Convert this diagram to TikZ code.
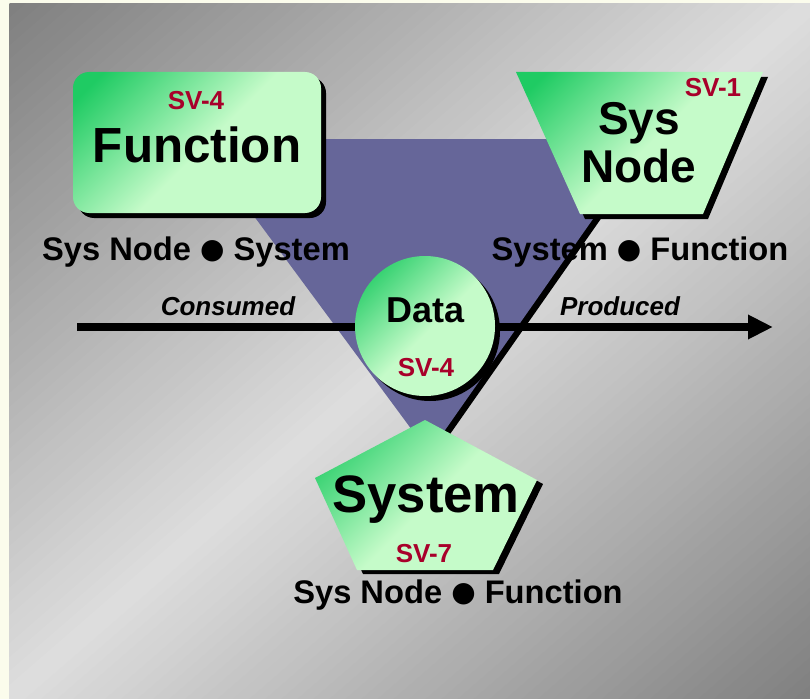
\documentclass[tikz,border=0pt]{standalone}
\usepackage{fontspec}
\setmainfont{Liberation Sans}
\newfontfamily\symfont{DejaVu Sans}
\usetikzlibrary{arrows.meta}
\definecolor{ivory}{HTML}{FBFCEC}
\definecolor{gdark}{HTML}{7F7F7F}
\definecolor{glight}{HTML}{DEDEDE}
\definecolor{gA}{HTML}{1FCB63}
\definecolor{gB}{HTML}{C5FBC9}
\definecolor{tri}{HTML}{666699}
\definecolor{svred}{HTML}{A8002A}
\pgfdeclarehorizontalshading{gfade}{100bp}{color(0bp)=(gA); color(20bp)=(gA); color(52bp)=(gB); color(100bp)=(gB)}
\newcommand{\bigdot}{\raisebox{1.2pt}{\symfont\fontsize{21}{21}\selectfont ●}}
\begin{document}
\begin{tikzpicture}[x=0.75pt,y=-0.75pt,
  shadowfill/.style={fill=black},
  greenshade/.style={shading=gfade, shading angle=-45},
  svlabel/.style={anchor=base, inner sep=0pt, text=svred, font=\fontsize{19.5}{20}\selectfont\bfseries},
  biglabel/.style={anchor=base, inner sep=0pt, font=\fontsize{37}{38}\selectfont\bfseries},
  relabel/.style={anchor=base, inner sep=0pt, font=\fontsize{24.5}{26}\selectfont\bfseries},
  flowlabel/.style={anchor=base, inner sep=0pt, font=\fontsize{19.5}{20}\selectfont\bfseries\itshape},
  flowline/.style={line width=6pt, -{Triangle[length=18.75pt,width=17.25pt]}}]
\useasboundingbox (0,0) rectangle (810,699);
% background
\fill[ivory] (0,0) rectangle (810,699);
\begin{scope}
  \clip (9,4) rectangle (810,699);
  \foreach \k in {0,...,99}{
    \pgfmathsetmacro{\ta}{\k*10.5}
    \pgfmathsetmacro{\tb}{\k*10.5+11.5}
    \pgfmathsetmacro{\lf}{100*(1-abs(\k*10.5+5.25-525)/525)}
    \fill[glight!\lf!gdark]
      ({9+\ta*0.6554+1100*0.7554},{4+\ta*0.7554-1100*0.6554}) --
      ({9+\ta*0.6554-1100*0.7554},{4+\ta*0.7554+1100*0.6554}) --
      ({9+\tb*0.6554-1100*0.7554},{4+\tb*0.7554+1100*0.6554}) --
      ({9+\tb*0.6554+1100*0.7554},{4+\tb*0.7554-1100*0.6554}) -- cycle;
  }
\end{scope}
% inverted triangle with shadow
\fill[shadowfill, shift={(5,4)}] (197,139) -- (649,139) -- (429,453) -- cycle;
\fill[tri] (197,139) -- (649,139) -- (429,453) -- cycle;
% flow arrow
\coordinate (cstart) at (77,327);
\coordinate (cend) at (773,327);
\draw[flowline] (cstart) -- (cend);
% Function box
\fill[shadowfill, rounded corners=12pt] (78,77) rectangle (326,218);
\shade[greenshade, rounded corners=12pt] (73,72) rectangle (321,213);
% Sys Node trapezoid
\fill[shadowfill, shift={(5,5)}] (516,72) -- (763,72) -- (703,214) -- (580,214) -- cycle;
\shade[greenshade] (516,72) -- (763,72) -- (703,214) -- (580,214) -- cycle;
% Data circle
\fill[shadowfill] (430,331) circle[radius=70];
\shade[greenshade] (425,326) circle[radius=70];
% System pentagon
\fill[shadowfill, shift={(6,4)}] (425,420) -- (537,480) -- (493,570) -- (357,570) -- (315,478) -- cycle;
\shade[greenshade] (425,420) -- (537,480) -- (493,570) -- (357,570) -- (315,478) -- cycle;
% texts
\node[svlabel] (fsv) at (196,109) {SV-4};
\node[biglabel] (fname) at (197,162) {Function};
\node[relabel] (frel) at (196,260) {Sys Node \bigdot{} System};
\node[svlabel] (nsv) at (713,96) {SV-1};
\node[biglabel, font=\fontsize{34.5}{36}\selectfont\bfseries] (nname1) at (639,134) {Sys};
\node[biglabel, font=\fontsize{34.5}{36}\selectfont\bfseries] (nname2) at (639,182) {Node};
\node[relabel] (nrel) at (640,260) {System \bigdot{} Function};
\node[flowlabel] (cons) at (228,315) {Consumed};
\node[flowlabel] (prod) at (620,315) {Produced};
\node[biglabel, font=\fontsize{27}{28}\selectfont\bfseries] (dname) at (426,322) {Data};
\node[svlabel] (dsv) at (426,376) {SV-4};
\node[biglabel, font=\fontsize{39.5}{40}\selectfont\bfseries] (sname) at (426,512) {System};
\node[svlabel] (ssv) at (424,562) {SV-7};
\node[relabel] (srel) at (458,603) {Sys Node \bigdot{} Function};
\end{tikzpicture}
\end{document}
